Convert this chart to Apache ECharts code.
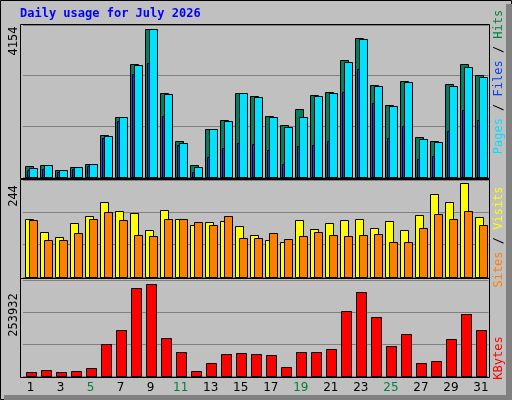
<!DOCTYPE html>
<html><head><meta charset="utf-8">
<script src="https://cdn.jsdelivr.net/npm/echarts@6/dist/echarts.min.js"></script>
<style>html,body{margin:0;padding:0;background:#c0c0c0}#c{width:512px;height:400px}</style>
</head><body><div id="c"></div>
<script>
const days = Array.from({length:31},(_,i)=>String(i+1));
const weekends = ['4','5','11','12','18','19','25','26'];
const hits  = [320,350,210,293,378,1167,1674,3167,4154,2350,998,330,1336,1589,2350,2266,1702,1448,1899,2294,2378,3280,3900,2576,2012,2688,1110,998,2604,3167,2857];
const files = [265,350,210,293,378,1138,1674,3139,4154,2322,941,293,1336,1561,2350,2237,1674,1392,1674,2266,2350,3224,3872,2547,1984,2660,1054,969,2547,3083,2801];
const pages = [208,237,152,237,321,1082,1561,2886,3196,1702,885,152,575,828,941,913,744,378,857,885,998,2378,3027,2068,1082,1420,518,603,1279,1871,1589];
const visits= [151,117,104,141,159,196,172,167,122,175,151,135,143,146,133,109,96,91,149,125,141,149,151,128,146,122,162,217,196,244,157];
const sites = [149,96,96,114,151,170,149,109,106,151,151,143,135,159,101,101,114,99,106,117,109,106,109,112,91,91,128,165,151,172,135];
const kbytes= [12046,17608,12046,14830,23175,87150,126100,242800,253932,103850,64900,14830,37080,59330,62110,59330,56550,25960,64900,64900,73240,178900,231750,162200,81580,115000,37080,42650,101100,170550,126100];

const chart = echarts.init(document.getElementById('c'));
function barSeries(data, gi, color, dx, w, z){
  return {type:'custom', xAxisIndex:gi, yAxisIndex:gi, z:z, data:data.map((v,i)=>[i,v]),
    renderItem:(params,api)=>{
      const top=api.coord([api.value(0),api.value(1)]);
      const base=api.coord([api.value(0),0]);
      return {type:'rect', shape:{x:Math.round(top[0]+dx)+0.5,y:Math.round(top[1])+0.5,width:w,height:Math.round(base[1]-top[1])},
        style:{fill:color,stroke:'#000',lineWidth:1}};
    }};
}
const maxH=Math.max(...hits), maxV=Math.max(...visits), maxK=Math.max(...kbytes);
const tops=[25,180,280], hs=[152,97,96], maxes=[maxH*151.4/147.4, maxV*95.7/92.4, maxK*95/91.3];
const grids=tops.map((t,i)=>({left:23,right:23.5,top:t,height:hs[i]}));
const xAxes=grids.map((g,i)=>({type:'category',gridIndex:i,data:days,boundaryGap:true,
  axisLine:{show:false},axisTick:{show:false},
  axisLabel:i==2?{show:true,margin:6,fontFamily:'DejaVu Sans',fontSize:12,
    color:(v)=>weekends.includes(v)?'#008040':'#000'}:{show:false}}));
const yAxes=maxes.map((m,i)=>({type:'value',gridIndex:i,min:0,max:m,interval:m/3,
  axisLabel:{show:false},axisLine:{show:false},axisTick:{show:false},
  splitLine:{show:true,lineStyle:{color:'#808080',width:1}}}));
const frame=(y,h)=>({type:'rect',z:-1,shape:{x:20.5,y:y+0.5,width:469,height:h},style:{fill:'#c0c0c0',stroke:'#000',lineWidth:1}});
const vtxt=(x,y,rich,text)=>({type:'text',x:x,y:y,rotation:Math.PI/2,z:10,
  style:{text:text,rich:rich,align:'center',verticalAlign:'middle',font:'12px "DejaVu Sans Mono"'}});
chart.setOption({
  animation:false, backgroundColor:'#c0c0c0',
  grid:grids, xAxis:xAxes, yAxis:yAxes,
  graphic:[
    {type:'rect',z:-2,shape:{x:0.5,y:0.5,width:511,height:399},style:{fill:'#c0c0c0',stroke:'#000',lineWidth:1}},
    {type:'rect',z:-2,shape:{x:506,y:4,width:6,height:396},style:{fill:'#808080'}},
    {type:'rect',z:-2,shape:{x:4,y:395,width:508,height:5},style:{fill:'#808080'}},
    frame(24,154), frame(179,99), frame(278,99),
    {type:'text',x:20,y:8,z:10,style:{text:'Daily usage for July 2026',fill:'#0000ff',font:'bold 12px "DejaVu Sans Mono"'}},
    vtxt(14,41,null,String(maxH)),
    vtxt(14,196,null,String(maxV)),
    vtxt(14,315,null,String(maxK)),
    vtxt(499,82,{p:{fill:'#00e0ff'},f:{fill:'#0040ff'},h:{fill:'#008040'},s:{fill:'#000'}},'{p|Pages}{s| / }{f|Files}{s| / }{h|Hits}'),
    vtxt(499,237,{a:{fill:'#ff8000'},v:{fill:'#ffff00'},s:{fill:'#000'}},'{a|Sites}{s| / }{v|Visits}'),
    vtxt(499,358,{k:{fill:'#ff0000'}},'{k|KBytes}')
  ].map(o=>{ if(o.type==='text'&&!o.style.rich) o.style.fill=o.style.fill||'#000'; if(o.style.rich===null) delete o.style.rich; return o;}),
  series:[
    barSeries(hits,0,'#008060',-6,8,1),
    barSeries(files,0,'#00e0ff',-2,8,2),
    barSeries(pages,0,'#0040ff',-4,2,3),
    barSeries(visits,1,'#ffff00',-6,8,1),
    barSeries(sites,1,'#ff8000',-2,8,2),
    barSeries(kbytes,2,'#ff0000',-5,10,1)
  ]
});
</script></body></html>
